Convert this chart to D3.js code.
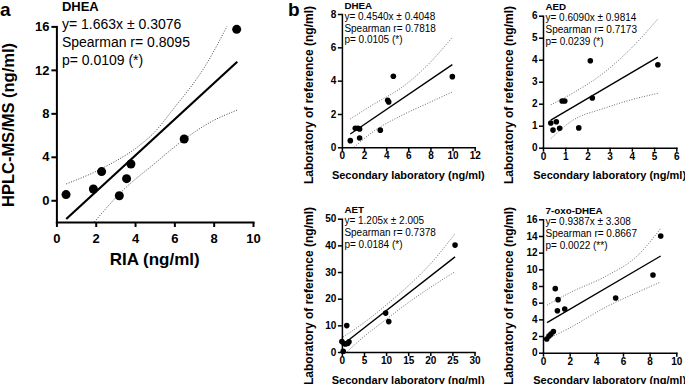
<!DOCTYPE html>
<html>
<head>
<meta charset="utf-8">
<script src="https://cdn.jsdelivr.net/npm/d3@7"></script>
<style>
  body { margin: 0; background: #fff; }
  svg { display: block; font-family: "Liberation Sans", Arial, Helvetica, sans-serif; }
</style>
</head>
<body>
<svg id="fig" width="685" height="384"></svg>
<script>
// ---- panel a: DHEA, RIA vs HPLC-MS/MS ----
const aPoints = [[0.49,0.52],[1.88,1.04],[2.3,2.64],[3.2,0.42],[3.57,1.99],[3.79,3.34],[6.5,5.64],[9.17,15.73]];
const aFit    = [[0.5,-1.72],[9.2,12.75]];
const aUpper  = [[0.5,1.5],[2.47,3.07],[4.16,4.95],[5.01,6.3],[5.86,8.2],[7.55,12.3],[9.2,17.9]];
const aLower  = [[1.93,-2],[3.32,0.8],[5.01,3.4],[6.5,5.6],[7.9,7.25],[9.2,8.3]];
const aText   = ["y= 1.663x \u00b1 0.3076", "Spearman r= 0.8095", "p= 0.0109 (*)"];

// ---- panel b: DHEA ----
const dheaPoints = [[0.76,0.4],[1.21,1.14],[1.45,1.14],[1.6,1.1],[1.6,0.56],[3.47,1.03],[4.14,2.82],[4.23,2.72],[4.65,4.26],[9.98,4.24]];
const dheaFit    = [[0.76,0.8],[9.98,4.96]];
const dheaUpper  = [[0.76,1.7],[2.66,2.5],[5.67,3.72],[7.78,4.96],[9.98,6.6]];
const dheaLower  = [[1.1,0],[2.66,0.86],[5.67,2.0],[7.78,2.65],[9.98,3.32]];
const dheaText   = ["y= 0.4540x \u00b1 0.4048", "Spearman r= 0.7818", "p= 0.0105 (*)"];

// ---- panel b: AED ----
const aedPoints = [[0.35,1.12],[0.45,0.8],[0.6,1.18],[0.75,0.88],[0.86,2.12],[0.98,2.12],[1.61,0.9],[2.13,3.95],[2.22,2.26],[5.17,3.77]];
const aedFit    = [[0.35,1.25],[5.17,4.12]];
const aedUpper  = [[0.35,1.95],[1.27,2.44],[2.78,3.44],[3.98,4.53],[5.17,5.85]];
const aedLower  = [[0.35,0.41],[1.27,1.2],[2.78,1.8],[3.98,2.18],[5.17,2.47]];
const aedText   = ["y= 0.6090x \u00b1 0.9814", "Spearman r= 0.7173", "p= 0.0239 (*)"];

// ---- panel b: AET ----
const aetPoints = [[0,3.9],[0.3,0.3],[0.5,3.2],[0.8,3.0],[1.3,3.2],[1.6,3.8],[1.1,9.9],[9.9,14.6],[10.6,11.4],[25.6,40.1]];
const aetFit    = [[0.3,2.9],[25.6,35.7]];
const aetUpper  = [[0.3,5.7],[5,11],[10,17.6],[15,24.8],[20,33],[25.6,44.4]];
const aetLower  = [[1.1,0],[5,5.8],[10,12.2],[15,18.5],[20,24.2],[25.6,30.1]];
const aetText   = ["y= 1.205x \u00b1 2.005", "Spearman r= 0.7378", "p= 0.0184 (*)"];

// ---- panel b: 7-oxo-DHEA ----
const oxoPoints = [[0.28,1.65],[0.45,2.0],[0.6,2.25],[0.78,2.55],[0.92,7.68],[1.13,6.36],[1.08,5.04],[1.63,5.24],[5.45,6.56],[8.25,9.32],[8.83,14.0]];
const oxoFit    = [[0.3,3.6],[8.83,11.6]];
const oxoUpper  = [[0.3,5.7],[2.12,7.28],[4.63,9.1],[7.13,11.7],[8.83,14.9]];
const oxoLower  = [[0.3,1.6],[2.12,3.08],[4.63,5.4],[7.13,7.28],[8.83,8.48]];
const oxoText   = ["y= 0.9387x \u00b1 3.308", "Spearman r= 0.8667", "p= 0.0022 (**)"];

const secLabel = "Secondary laboratory (ng/ml)";
const refLabel = "Laboratory of reference (ng/ml)";

// styles for the big panel and the four small ones
const bigStyle = { axisW: 2, tick: 5, tickFont: 13, padX: 6.5, padY: 2, dotR: 4.5, fitW: 2.2, bandW: 1,
  textFont: 14, titleFont: 13, xLabFont: 17, yLabFont: 16.5, xLabDy: 43, textDx: 5.5, titleDy: -15.4, lineDy: [2.9, 20.3, 38.6] };
const smallStyle = { axisW: 1.5, tick: 4, tickFont: 10, padX: 1, padY: 1.5, dotR: 2.8, fitW: 1.4, bandW: 0.8,
  textFont: 10, titleFont: 9.8, xLabFont: 11, yLabFont: 12, xLabDy: 31.5, textDx: 2.5, titleDy: -5.5, lineDy: [5.5, 17.5, 29.3] };

const panels = [
  { id: "a", name: "DHEA", points: aPoints, fit: aFit, upper: aUpper, lower: aLower, text: aText,
    xDomain: [0, 10], yDomain: [-2, 16], xTicks: [0,2,4,6,8,10], yTicks: [0,4,8,12,16],
    xLabel: "RIA (ng/ml)", yLabel: "HPLC-MS/MS (ng/ml)",
    box: { left: 56.4, right: 253, top: 26.4, bottom: 222 }, yLabX: 14, yLabCY: 125, st: bigStyle },
  { id: "dhea", name: "DHEA", points: dheaPoints, fit: dheaFit, upper: dheaUpper, lower: dheaLower, text: dheaText,
    xDomain: [0, 12], yDomain: [0, 8], xTicks: [0,2,4,6,8,10,12], yTicks: [0,2,4,6,8],
    xLabel: secLabel, yLabel: refLabel,
    box: { left: 341.9, right: 474.7, top: 14, bottom: 147.3 }, yLabX: 313, yLabCY: 95, st: smallStyle },
  { id: "aed", name: "AED", points: aedPoints, fit: aedFit, upper: aedUpper, lower: aedLower, text: aedText,
    xDomain: [0, 6], yDomain: [0, 6], xTicks: [0,1,2,3,4,5,6], yTicks: [0,1,2,3,4,5,6],
    xLabel: secLabel, yLabel: refLabel,
    box: { left: 543, right: 676.3, top: 15.7, bottom: 147.7 }, yLabX: 513, yLabCY: 95, st: smallStyle },
  { id: "aet", name: "AET", points: aetPoints, fit: aetFit, upper: aetUpper, lower: aetLower, text: aetText,
    xDomain: [0, 30], yDomain: [0, 50], xTicks: [0,5,10,15,20,25,30], yTicks: [0,10,20,30,40,50],
    xLabel: secLabel, yLabel: refLabel,
    box: { left: 341.9, right: 474.5, top: 218.7, bottom: 352 }, yLabX: 313, yLabCY: 296, st: smallStyle },
  { id: "oxo", name: "7-oxo-DHEA", points: oxoPoints, fit: oxoFit, upper: oxoUpper, lower: oxoLower, text: oxoText,
    xDomain: [0, 10], yDomain: [0, 16], xTicks: [0,2,4,6,8,10], yTicks: [0,2,4,6,8,10,12,14,16],
    xLabel: secLabel, yLabel: refLabel,
    box: { left: 543, right: 676.3, top: 219.3, bottom: 352.7 }, yLabX: 513, yLabCY: 296, st: smallStyle }
];

const svg = d3.select("#fig");
const defs = svg.append("defs");

function drawPanel(p) {
  const st = p.st, b = p.box;
  const x = d3.scaleLinear().domain(p.xDomain).range([b.left, b.right]);
  const y = d3.scaleLinear().domain(p.yDomain).range([b.bottom, b.top]);
  const g = svg.append("g").attr("class", "panel-" + p.id);

  defs.append("clipPath").attr("id", "clip-" + p.id)
    .append("rect")
      .attr("x", b.left).attr("y", b.top)
      .attr("width", b.right - b.left).attr("height", b.bottom - b.top);

  // confidence bands (dotted)
  const band = d3.line().x(d => x(d[0])).y(d => y(d[1])).curve(d3.curveMonotoneX);
  g.selectAll("path.band")
    .data([p.upper, p.lower])
    .enter().append("path")
      .attr("class", "band")
      .attr("clip-path", `url(#clip-${p.id})`)
      .attr("d", band)
      .attr("fill", "none")
      .attr("stroke", "#444")
      .attr("stroke-width", st.bandW)
      .attr("stroke-dasharray", "1,1.6");

  // regression line
  g.append("path")
    .attr("d", d3.line().x(d => x(d[0])).y(d => y(d[1]))(p.fit))
    .attr("fill", "none")
    .attr("stroke", "#000")
    .attr("stroke-width", st.fitW);

  // points
  g.selectAll("circle")
    .data(p.points)
    .enter().append("circle")
      .attr("cx", d => x(d[0]))
      .attr("cy", d => y(d[1]))
      .attr("r", st.dotR)
      .attr("fill", "#000");

  // axes
  const xAxis = d3.axisBottom(x).tickValues(p.xTicks).tickFormat(d3.format("d"))
    .tickSize(st.tick).tickSizeOuter(0).tickPadding(st.padX);
  const yAxis = d3.axisLeft(y).tickValues(p.yTicks).tickFormat(d3.format("d"))
    .tickSize(st.tick).tickSizeOuter(0).tickPadding(st.padY);

  const gx = g.append("g").attr("transform", `translate(0,${b.bottom})`).call(xAxis);
  const gy = g.append("g").attr("transform", `translate(${b.left},0)`).call(yAxis);
  [gx, gy].forEach(ax => {
    ax.select(".domain").attr("stroke-width", st.axisW).attr("stroke-linecap", "square");
    ax.selectAll(".tick line").attr("stroke-width", st.axisW);
    ax.selectAll(".tick text")
      .attr("fill", "#000")
      .style("font-family", "inherit")
      .style("font-size", st.tickFont + "px")
      .style("font-weight", "bold");
  });

  // axis titles
  g.append("text")
    .attr("x", (b.left + b.right) / 2)
    .attr("y", b.bottom + st.xLabDy)
    .attr("text-anchor", "middle")
    .style("font-size", st.xLabFont + "px")
    .style("font-weight", "bold")
    .text(p.xLabel);

  g.append("text")
    .attr("transform", `translate(${p.yLabX},${p.yLabCY}) rotate(-90)`)
    .attr("text-anchor", "middle")
    .style("font-size", st.yLabFont + "px")
    .style("font-weight", "bold")
    .text(p.yLabel);

  // compound name and statistics
  g.append("text")
    .attr("x", b.left + st.textDx)
    .attr("y", b.top + st.titleDy)
    .style("font-size", st.titleFont + "px")
    .style("font-weight", "bold")
    .text(p.name);

  g.selectAll("text.stat")
    .data(p.text)
    .enter().append("text")
      .attr("class", "stat")
      .attr("x", b.left + st.textDx)
      .attr("y", (d, i) => b.top + st.lineDy[i])
      .style("font-size", st.textFont + "px")
      .text(d => d);
}

panels.forEach(drawPanel);

// panel letters
svg.append("text").attr("x", 0).attr("y", 16)
  .style("font-size", "19px").style("font-weight", "bold").text("a");
svg.append("text").attr("x", 288).attr("y", 16)
  .style("font-size", "19px").style("font-weight", "bold").text("b");
</script>
</body>
</html>
